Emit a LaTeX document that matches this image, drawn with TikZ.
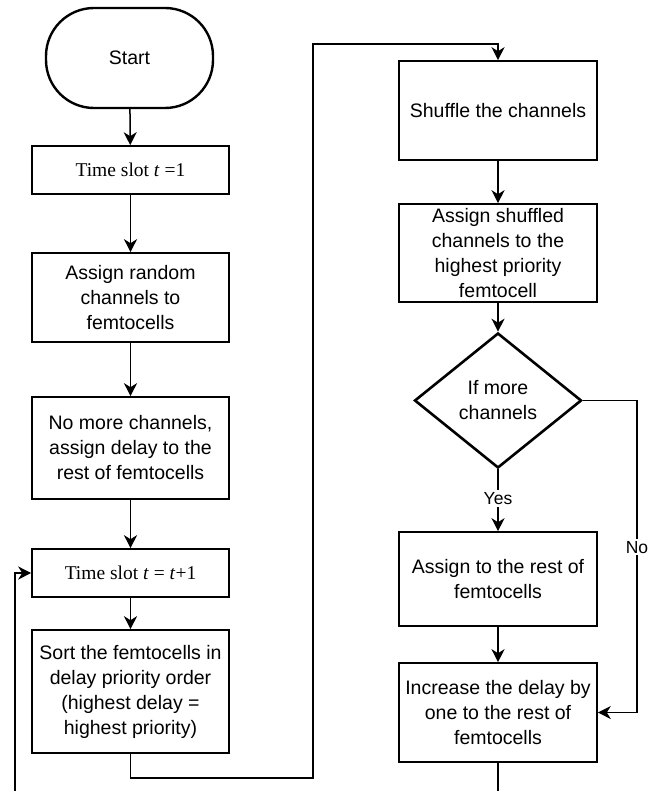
\documentclass[tikz,border=0pt]{standalone}
\usepackage{fontspec}
\setmainfont{Liberation Serif}
\setsansfont{Liberation Sans}
\usetikzlibrary{shapes.geometric,arrows.meta}
\begin{document}
\begin{tikzpicture}[x=1pt,y=-1pt,
  box/.style={draw,line width=1.6pt,minimum width=197pt,align=center,inner sep=0pt,
     font=\sffamily\fontsize{19.5}{25}\selectfont},
  serifbox/.style={box,font=\rmfamily\fontsize{19.5}{24}\selectfont},
  term/.style={draw,line width=2.4pt,rounded corners=48pt,minimum width=167pt,minimum height=100pt,
     font=\sffamily\fontsize{19.5}{24}\selectfont},
  decide/.style={draw,diamond,line width=2.6pt,aspect=1.24,minimum width=167pt,minimum height=135pt,
     inner sep=0pt,align=center,font=\sffamily\fontsize{19.5}{25}\selectfont},
  conn/.style={line width=1.5pt},
  arr/.style={conn,-{Stealth[length=13pt,width=13pt,inset=4pt]}},
  lbl/.style={fill=white,inner sep=2pt,font=\sffamily\fontsize{17.5}{20}\selectfont}]
\useasboundingbox (0,0) rectangle (660,791);
% left column
\node[term] (start) at (129.5,58) {Start};
\node[serifbox,minimum height=48pt] (t1) at (130.5,170) {Time slot \textit{t} =1};
\node[box,minimum height=89pt] (rand) at (130.5,297.5) {Assign random\\channels to\\femtocells};
\node[box,minimum height=102pt] (nomore) at (130.5,448) {No more channels,\\assign delay to the\\rest of femtocells};
\node[serifbox,minimum height=48pt] (t2) at (130.5,573) {Time slot \textit{t} = \textit{t}+1};
\node[box,minimum height=123pt] (sort) at (130.5,691.5) {Sort the femtocells in\\delay priority order\\(highest delay =\\highest priority)};
% right column
\node[box,minimum width=198pt,minimum height=99pt] (shuffle) at (498,110.5) {Shuffle the channels};
\node[box,minimum width=198pt,minimum height=98pt] (shuf2) at (498,253) {Assign shuffled\\channels to the\\highest priority\\femtocell};
\node[decide] (more) at (498,400.5) {If more\\channels};
\node[box,minimum width=198pt,minimum height=94pt] (rest) at (498,579) {Assign to the rest of\\femtocells};
\node[box,minimum width=198pt,minimum height=99pt] (inc) at (498,712.5) {Increase the delay by\\one to the rest of\\femtocells};
% helper coordinates
\coordinate (s1) at (130.5,778);
\coordinate (s2) at (313,778);
\coordinate (s3) at (313,44);
\coordinate (s4) at (498,44);
\coordinate (n1) at (637,400.5);
\coordinate (n2) at (637,712.5);
\coordinate (incend) at (498,791);
\coordinate (l1) at (15,791);
\coordinate (l2) at (15,573);
% connectors
\draw[arr] (start) -- (t1);
\draw[arr] (t1) -- (rand);
\draw[arr] (rand) -- (nomore);
\draw[arr] (nomore) -- (t2);
\draw[arr] (t2) -- (sort);
\draw[arr] (sort.south) -- (s1) -- (s2) -- (s3) -- (s4) -- (shuffle.north);
\draw[arr] (shuffle) -- (shuf2);
\draw[arr] (shuf2) -- (more);
\draw[arr] (more.south) -- node[lbl,pos=0.47] {Yes} (rest.north);
\draw[arr] (rest) -- (inc);
\draw[arr] (more.east) -- (n1) -- node[lbl,pos=0.47] {No} (n2) -- (inc.east);
\draw[conn] (inc.south) -- (incend);
\draw[arr] (l1) -- (l2) -- (t2.west);
\end{tikzpicture}
\end{document}
